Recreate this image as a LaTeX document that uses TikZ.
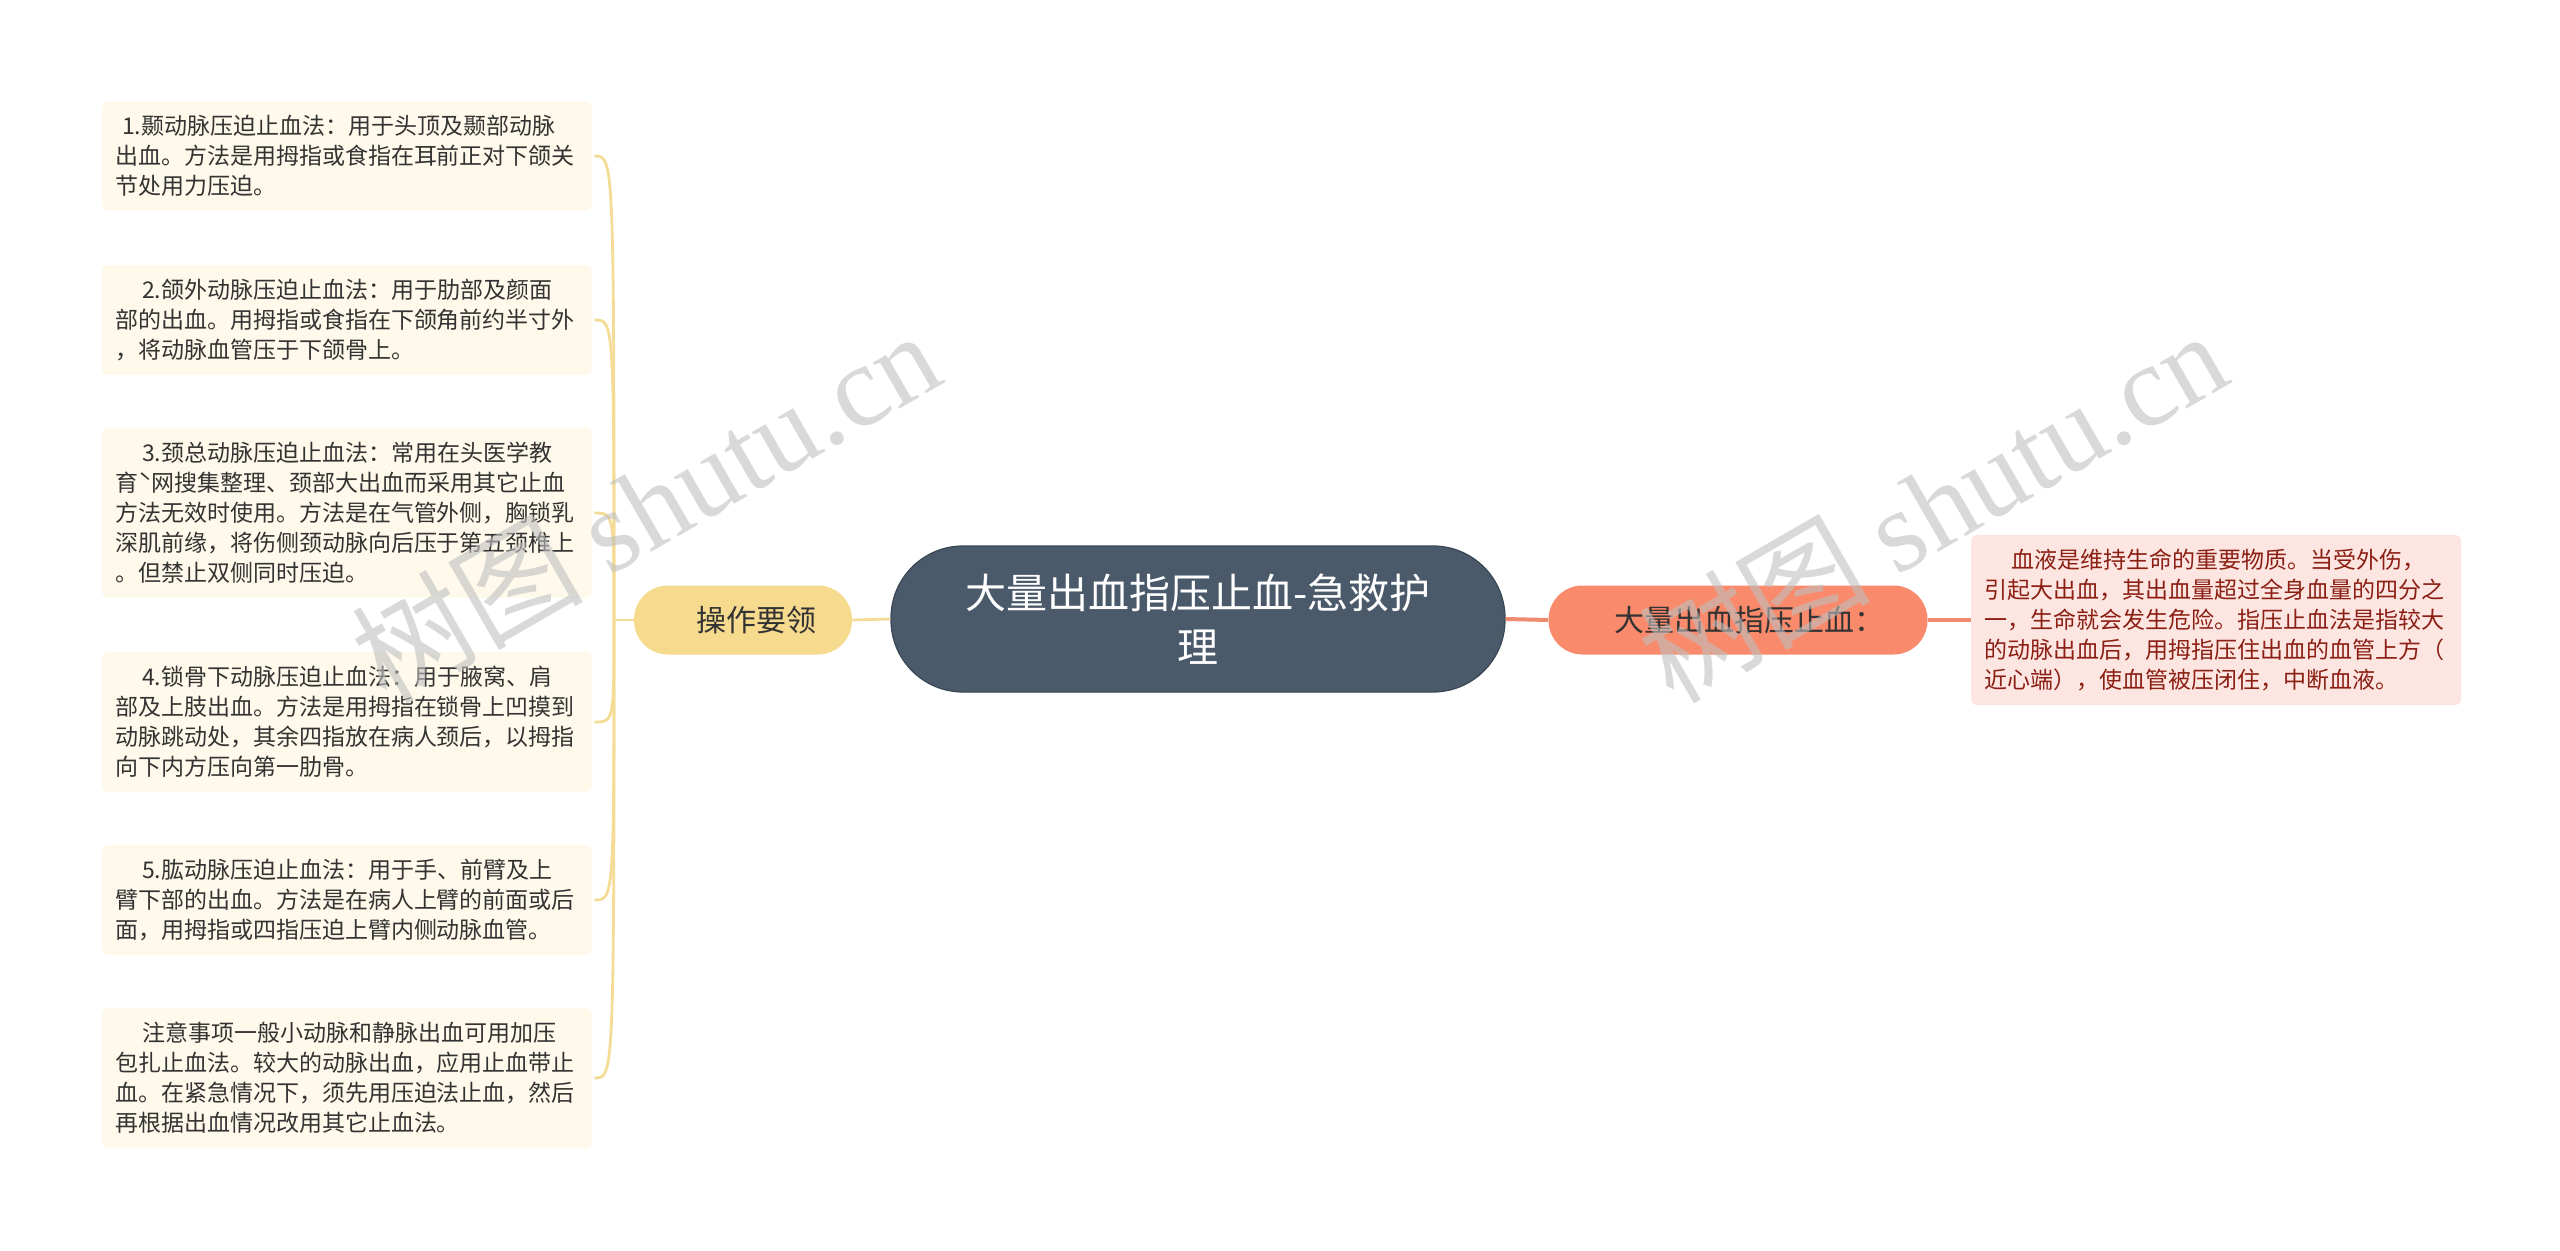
\documentclass[tikz,border=0pt]{standalone}
\usepackage{fontspec}
\setmainfont{Noto Sans CJK SC}
\newfontfamily\markserif{Liberation Serif}
\usetikzlibrary{positioning}

\definecolor{rootFill}{HTML}{4A5A6A}
\definecolor{rootDraw}{HTML}{3A4754}
\definecolor{keyFill}{HTML}{F6DA8E}
\definecolor{keyLine}{HTML}{F5DC96}
\definecolor{bigFill}{HTML}{FA8A6C}
\definecolor{bigLine}{HTML}{EF8B6F}
\definecolor{noteFill}{HTML}{FEF9EA}
\definecolor{noteText}{HTML}{333333}
\definecolor{redFill}{HTML}{FDE6E1}
\definecolor{redText}{HTML}{8B1F14}

\tikzset{
  rootnode/.style={rounded corners=36pt, fill=rootFill, draw=rootDraw, line width=0.6pt,
    text=white, minimum width=307pt, minimum height=73pt, align=center,
    font=\fontsize{20.5}{27}\selectfont},
  keynode/.style={rounded corners=17pt, fill=keyFill, text=noteText,
    minimum width=109pt, minimum height=34.5pt, font=\fontsize{15}{18}\selectfont},
  bignode/.style={rounded corners=17pt, fill=bigFill, text=noteText,
    minimum width=189.5pt, minimum height=34.5pt, font=\fontsize{15}{18}\selectfont},
  notebox/.style={rounded corners=3pt, fill=noteFill, text=noteText, align=left,
    text width=232pt, inner xsep=6.5pt, inner ysep=7pt,
    font=\fontsize{11.5}{15}\selectfont},
  redbox/.style={notebox, fill=redFill, text=redText, text width=232pt},
  keyline/.style={draw=keyLine, line width=1.4pt},
  bigline/.style={draw=bigLine, line width=2pt},
  watermark/.style={text=gray!50, opacity=0.6, rotate=30, font=\fontsize{58}{62}\selectfont}
}

% ---- Positions (pixels of the picture)
\def \rootX{1198}
\def \rootY{619}
\def \keyX{743}
\def \bigX{1738}
\def \noteX{347}
\def \redX{2216}

\begin{document}
\begin{tikzpicture}[x=0.5pt, y=-0.5pt]
\useasboundingbox (0,0) rectangle (2560,1251);

% ---- Main topics
\node [rootnode] (root) at (\rootX, \rootY) {大量出血指压止血-急救护\\理};
\node [keynode] (opKey) at (\keyX, 620) {\hspace*{13pt}操作要领};
\node [bignode] (bigKey) at (\bigX, 620) {\hspace*{11pt}大量出血指压止血：};

% ---- Left notes
\node [notebox] (noteA) at (\noteX, 156) {\hspace*{3.5pt}1.颞动脉压迫止血法：用于头顶及颞部动脉\\出血。方法是用拇指或食指在耳前正对下颌关\\节处用力压迫。};
\node [notebox] (noteB) at (\noteX, 320) {\hspace*{13.5pt}2.颌外动脉压迫止血法：用于肋部及颜面\\部的出血。用拇指或食指在下颌角前约半寸外\\，将动脉血管压于下颌骨上。};
\node [notebox] (noteC) at (\noteX, 513) {\hspace*{13.5pt}3.颈总动脉压迫止血法：常用在头医学教\\育ˋ网搜集整理、颈部大出血而采用其它止血\\方法无效时使用。方法是在气管外侧，胸锁乳\\深肌前缘，将伤侧颈动脉向后压于第五颈椎上\\。但禁止双侧同时压迫。};
\node [notebox] (noteD) at (\noteX, 722) {\hspace*{13.5pt}4.锁骨下动脉压迫止血法：用于腋窝、肩\\部及上肢出血。方法是用拇指在锁骨上凹摸到\\动脉跳动处，其余四指放在病人颈后，以拇指\\向下内方压向第一肋骨。};
\node [notebox] (noteE) at (\noteX, 900) {\hspace*{13.5pt}5.肱动脉压迫止血法：用于手、前臂及上\\臂下部的出血。方法是在病人上臂的前面或后\\面，用拇指或四指压迫上臂内侧动脉血管。};
\node [notebox] (noteF) at (\noteX, 1078) {\hspace*{13.5pt}注意事项一般小动脉和静脉出血可用加压\\包扎止血法。较大的动脉出血，应用止血带止\\血。在紧急情况下，须先用压迫法止血，然后\\再根据出血情况改用其它止血法。};

% ---- Right note
\node [redbox] (noteR) at (\redX, 620) {\hspace*{13.5pt}血液是维持生命的重要物质。当受外伤，\\引起大出血，其出血量超过全身血量的四分之\\一，生命就会发生危险。指压止血法是指较大\\的动脉出血后，用拇指压住出血的血管上方（\\近心端），使血管被压闭住，中断血液。};

% ---- Connectors
\coordinate (leftJoint) at (614, 620);
\draw [keyline] (root.west) -- (opKey.east);
\draw [keyline] (opKey.west) -- (leftJoint);
\foreach \n in {noteA, noteB, noteC, noteD, noteE, noteF}
  \draw [keyline] (leftJoint) .. controls (leftJoint |- \n.east) and (leftJoint |- \n.east) .. ([xshift=1pt]\n.east);
\draw [bigline] (root.east) -- (bigKey.west);
\draw [bigline] (bigKey.east) -- (noteR.west);

% ---- Watermarks
\node [watermark] (markA) at (645, 505) {树图 {\markserif shutu.cn}};
\node [watermark] (markB) at (1932, 505) {树图 {\markserif shutu.cn}};
\end{tikzpicture}
\end{document}
